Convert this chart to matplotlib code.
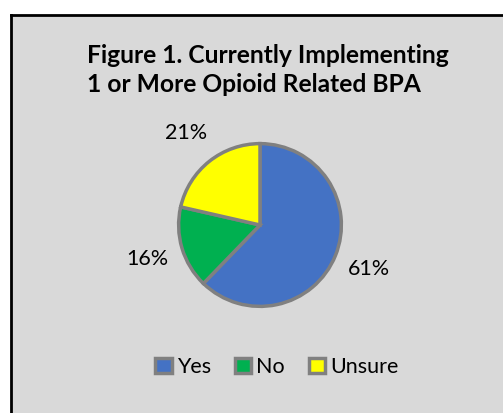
import matplotlib.pyplot as plt

categories = ['Yes', 'No', 'Unsure']
values = [61, 16, 21]
labels = ['61%', '16%', '21%']
colors = ['#4472C4', '#00B050', '#FFFF00']

W, H = 503, 413
fig = plt.figure(figsize=(W / 100, H / 100), dpi=100, facecolor='white')

# chart area frame (runs off the right and bottom edges)
bg = fig.add_axes([11 / W, -0.1, 1.2, 1 - 15 / H + 0.1], zorder=-1)
bg.set_facecolor('#D9D9D9')
bg.set_xticks([])
bg.set_yticks([])
for s in bg.spines.values():
    s.set_linewidth(2)
    s.set_color('black')

fig.text(87 / W, 1 - 70 / H, 'Figure 1. Currently Implementing\n1 or More Opioid Related BPA',
         ha='left', va='center', fontsize=17.7, fontweight='bold', family='Lato',
         linespacing=1.34)

# pie axes: centre (260, 225) px, radius 83 px
R = 83
cx, cy = 260, 225
ax = fig.add_axes([(cx - R) / W, (H - cy - R) / H, 2 * R / W, 2 * R / H])
wedges, texts = ax.pie(values, labels=labels, colors=colors, startangle=90,
                       counterclock=False, labeldistance=1.45,
                       wedgeprops=dict(edgecolor='#808080', linewidth=2.5),
                       textprops=dict(fontsize=15.5, family='Lato'))
for t in texts:
    t.set_ha('center')
    t.set_va('center')
    t.set_clip_on(False)
ax.set_xlim(-1.02, 1.02)
ax.set_ylim(-1.02, 1.02)

fig.legend(wedges, categories, loc='center', bbox_to_anchor=(277 / W, 1 - 367 / H),
           ncol=3, frameon=False, prop=dict(family='Lato', size=15.5),
           handlelength=0.75, handleheight=0.75, handletextpad=0.25, columnspacing=1.1)

fig.savefig('out.png', dpi=100, facecolor='white')
